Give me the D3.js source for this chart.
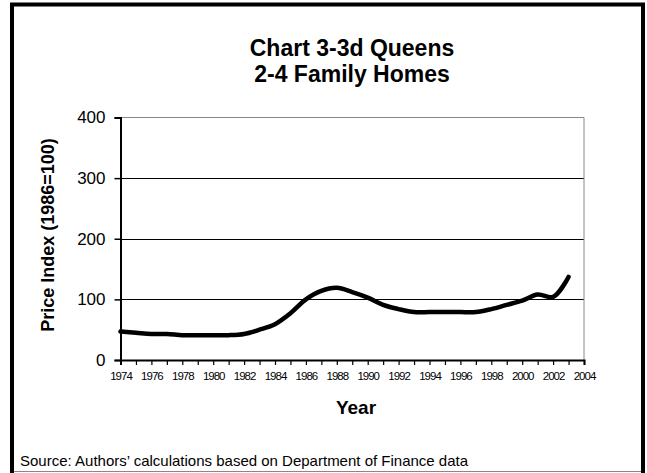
<!DOCTYPE html>
<html>
<head>
<meta charset="utf-8">
<script src="https://cdn.jsdelivr.net/npm/d3@7/dist/d3.min.js"></script>
<style>
  html, body { margin: 0; padding: 0; background: #fff; }
  svg { display: block; font-family: Arial, "Liberation Sans", sans-serif; }
  .line { fill: none; stroke: #000; stroke-width: 4.5; stroke-linejoin: round; stroke-linecap: round; }
  .grid line { stroke: #000; stroke-width: 1; shape-rendering: crispEdges; }
</style>
</head>
<body>
<div id="chart"></div>
<script>
const W = 647, H = 473;

// Data.
const years = [1974, 1975, 1976, 1977, 1978, 1979, 1980, 1981, 1982, 1983,
  1984, 1985, 1986, 1987, 1988, 1989, 1990, 1991, 1992, 1993,
  1994, 1995, 1996, 1997, 1998, 1999, 2000, 2001, 2002, 2003];
const priceIndex = [47, 45, 43, 43, 41, 41, 41, 41, 43, 50,
  59, 77, 100, 114, 119, 112, 103, 91, 84, 79,
  79, 79, 79, 79, 84, 91, 98, 108, 104, 137];
const yTicks = [0, 100, 200, 300, 400];
const xTickLabels = d3.range(1974, 2005, 2);
const titleLines = ['Chart 3-3d Queens', '2-4 Family Homes'];

const M = { top: 117.5, left: 120.5, right: 584, bottom: 360 };

const svg = d3.select('#chart').append('svg')
  .attr('width', W).attr('height', H).attr('viewBox', `0 0 ${W} ${H}`);

const x = d3.scaleLinear().domain([1974, 2004]).range([M.left, M.right]);
const y = d3.scaleLinear().domain([0, 400]).range([M.bottom, M.top]);

// Outer frame, bottom edge falls outside the picture.
svg.append('rect')
  .attr('x', 12).attr('y', 4.5).attr('width', 631).attr('height', 490)
  .attr('fill', 'none').attr('stroke', '#000').attr('stroke-width', 4);
svg.append('line')
  .attr('x1', 14).attr('x2', 641).attr('y1', 471.5).attr('y2', 471.5)
  .attr('stroke', '#888').attr('stroke-width', 1);

// Title.
svg.append('text')
  .attr('x', 352).attr('y', 56)
  .attr('text-anchor', 'middle')
  .attr('font-size', 23).attr('font-weight', 'bold')
  .selectAll('tspan').data(titleLines).join('tspan')
  .attr('x', 352).attr('dy', (d, i) => i ? 26 : 0)
  .text(d => d);

// Grid lines and plot border.
svg.append('g').attr('class', 'grid')
  .selectAll('line').data(yTicks.filter(v => v > 0 && v < 400)).join('line')
  .attr('x1', M.left).attr('x2', M.right)
  .attr('y1', d => Math.round(y(d)) + 0.5).attr('y2', d => Math.round(y(d)) + 0.5);
svg.append('path')
  .attr('d', `M${M.left},${y(400)}H${M.right}V${M.bottom}`)
  .attr('fill', 'none').attr('stroke', '#888').attr('stroke-width', 1);

// Y axis.
const yAxis = svg.append('g')
  .attr('transform', `translate(${M.left},0)`)
  .call(d3.axisLeft(y).tickValues(yTicks).tickSize(6).tickPadding(9).tickFormat(d3.format('d')));
yAxis.select('.domain').attr('stroke-width', 2);
yAxis.selectAll('.tick line').attr('stroke-width', 1.5);
yAxis.selectAll('text').attr('font-size', 17).attr('font-family', 'Arial, "Liberation Sans", sans-serif').attr('fill', '#000');

// X axis: tick every year, label every second year.
const xAxis = svg.append('g')
  .attr('transform', `translate(0,${M.bottom})`)
  .call(d3.axisBottom(x).tickValues(d3.range(1974, 2005)).tickSize(5).tickPadding(7)
    .tickFormat(d => xTickLabels.includes(d) ? d : ''));
xAxis.select('.domain').attr('stroke-width', 2);
xAxis.selectAll('.tick line').attr('stroke-width', 1.2);
xAxis.selectAll('text')
  .attr('font-size', 11.5).attr('letter-spacing', -1)
  .attr('font-family', 'Arial, "Liberation Sans", sans-serif').attr('fill', '#000');

// Axis titles.
svg.append('text')
  .attr('x', 356).attr('y', 414)
  .attr('text-anchor', 'middle')
  .attr('font-size', 19).attr('font-weight', 'bold')
  .text('Year');
svg.append('text')
  .attr('transform', `translate(54,${235}) rotate(-90)`)
  .attr('text-anchor', 'middle')
  .attr('font-size', 18).attr('font-weight', 'bold')
  .text('Price Index (1986=100)');

// Series line (smoothed like the original).
const line = d3.line()
  .x((d, i) => x(years[i]))
  .y(d => y(d))
  .curve(d3.curveCatmullRom.alpha(0.5));
svg.append('path').datum(priceIndex).attr('class', 'line').attr('d', line);

// Source note.
svg.append('text')
  .attr('x', 20).attr('y', 466)
  .attr('font-size', 15)
  .text('Source: Authors\u2019 calculations based on Department of Finance data');
</script>
</body>
</html>
